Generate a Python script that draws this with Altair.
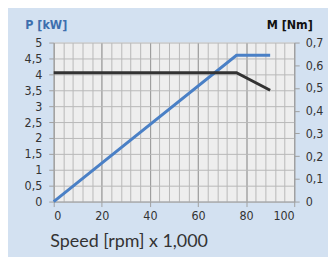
import altair as alt
import pandas as pd

# Power curve P [kW] vs speed (x1000 rpm)
p_speed = [0, 76, 90]
p_kw = [0, 4.6, 4.6]
# Torque curve M [Nm]
m_speed = [0, 76, 90]
m_nm = [0.567, 0.567, 0.49]

x_ticks = [0, 20, 40, 60, 80, 100]
x_minor = list(range(0, 101, 4))
p_ticks = [0, 0.5, 1, 1.5, 2, 2.5, 3, 3.5, 4, 4.5, 5]
m_ticks = [0, 0.1, 0.2, 0.3, 0.4, 0.5, 0.6, 0.7]

dfp = pd.DataFrame({"speed": p_speed, "P": p_kw})
dfm = pd.DataFrame({"speed": m_speed, "M": m_nm})

LBL_FONT = "'DejaVu Sans Condensed', 'Liberation Sans', sans-serif"
xscale = alt.Scale(domain=[0, 100], nice=False)

# minor grid layer (x every 4)
minor = alt.Chart(dfp).mark_line(opacity=0).encode(
    x=alt.X("speed:Q", scale=xscale,
            axis=alt.Axis(orient="bottom", values=x_minor, labels=False, ticks=False, domain=False,
                          title=None, grid=True, gridColor="#b8b8b8", gridWidth=1)),
    y=alt.Y("P:Q", scale=alt.Scale(domain=[0, 5], nice=False),
            axis=alt.Axis(values=p_ticks, grid=True, gridColor="#b8b8b8",
                          labelExpr="replace(format(datum.value, '.1~f'), '.', ',')",
                          labelFont=LBL_FONT, labelFontSize=12.5, labelColor="#333333",
                          tickColor="#a0a0a0", tickSize=5, labelPadding=7,
                          domainColor="#a0a0a0",
                          title="P [kW]", titleColor="#3d6fae", titleFont=LBL_FONT,
                          titleFontSize=12.5, titleFontWeight="bold", titleAngle=0,
                          titleAnchor="end", titleAlign="center", titleBaseline="alphabetic",
                          titleX=-8, titleY=-14)),
)

power = alt.Chart(dfp).mark_line(color="#4a80c6", strokeWidth=3).encode(
    x=alt.X("speed:Q", scale=xscale,
            axis=alt.Axis(orient="bottom", values=x_ticks, grid=True, gridColor="#9a9a9a", gridWidth=1,
                          labelFont=LBL_FONT, labelFontSize=12.5, labelColor="#333333",
                          tickColor="#a0a0a0", tickSize=5, labelPadding=3,
                          domainColor="#a0a0a0",
                          title="Speed [rpm] x 1,000", titleFont="Lato", titleFontSize=18,
                          titleFontWeight="normal", titleColor="#333333",
                          titleAnchor="start", titleAlign="left", titleBaseline="alphabetic",
                          titleX=-4, titleY=45)),
    y=alt.Y("P:Q", scale=alt.Scale(domain=[0, 5], nice=False), axis=None),
)

torque = alt.Chart(dfm).mark_line(color="#333333", strokeWidth=3).encode(
    x=alt.X("speed:Q", scale=xscale, axis=None),
    y=alt.Y("M:Q", scale=alt.Scale(domain=[0, 0.7], nice=False),
            axis=alt.Axis(orient="right", values=m_ticks, grid=False,
                          labelExpr="replace(format(datum.value, '.1~f'), '.', ',')",
                          labelFont=LBL_FONT, labelFontSize=12.5, labelColor="#333333",
                          tickColor="#a0a0a0", tickSize=5, labelPadding=6,
                          domainColor="#a0a0a0",
                          title="M [Nm]", titleColor="#111111", titleFont=LBL_FONT,
                          titleFontSize=12.5, titleFontWeight="bold", titleAngle=0,
                          titleAnchor="end", titleAlign="center", titleBaseline="alphabetic",
                          titleX=-5, titleY=-14)),
)

chart = alt.layer(minor, power, torque).resolve_scale(y="independent").resolve_axis(
    x="independent"
).properties(
    width=242, height=160,
    background="#d3e1f1",
    padding={"left": 46, "top": 34, "right": 34, "bottom": 55},
    autosize=alt.AutoSizeParams(type="none"),
).configure_view(fill="#eeeeee", stroke=None)

chart.save("out.html", embed_options={"renderer": "svg", "actions": False})
